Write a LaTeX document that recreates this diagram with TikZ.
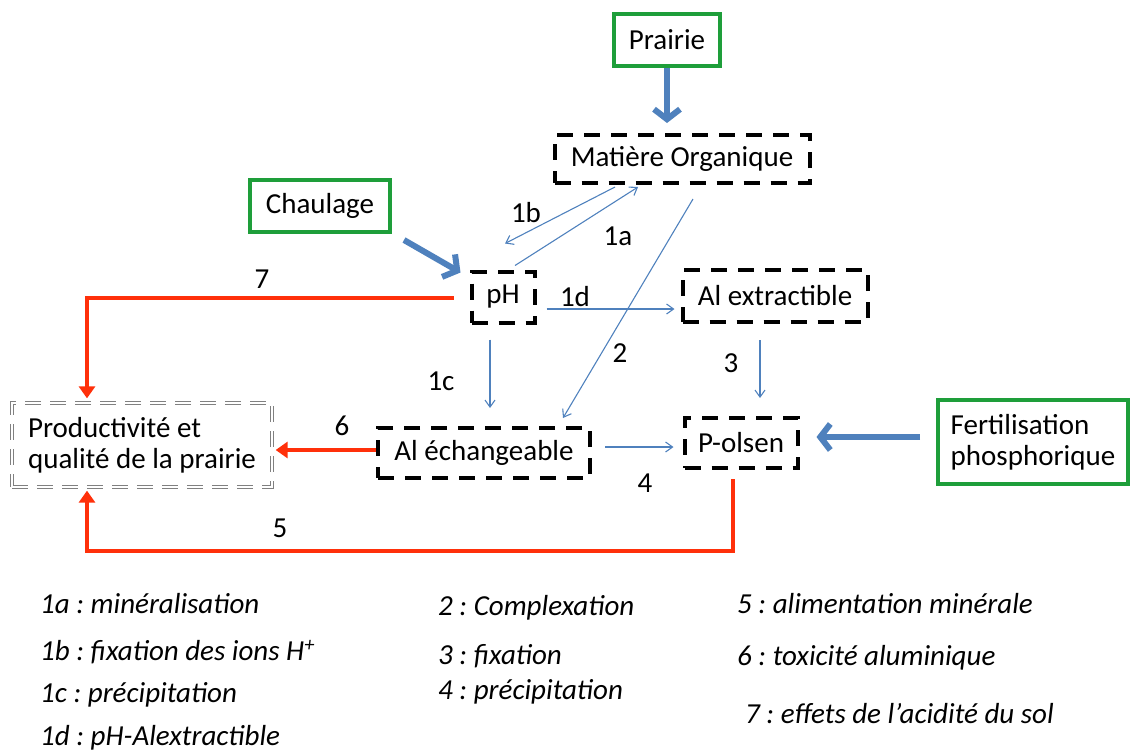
\documentclass[tikz,border=0pt]{standalone}
\usepackage{fontspec}
\setmainfont{Carlito}
\usetikzlibrary{arrows.meta,calc}
\definecolor{gboxc}{RGB}{30,158,58}
\definecolor{bluec}{RGB}{79,129,189}
\definecolor{redc}{RGB}{255,48,10}
\tikzset{
  nodefont/.style={font=\fontsize{29}{31}\selectfont},
  greenbox/.style={draw=gboxc, line width=4pt, inner sep=0pt, nodefont, align=left},
  dashbox/.style={draw=black, line width=4pt, dash pattern=on 16pt off 11pt, inner sep=0pt, nodefont},
  prodbox/.style={draw=gray, double=white, double distance=1.6pt, line width=1.3pt, dash pattern=on 16pt off 9pt, inner sep=0pt, nodefont, align=left},
  thinarr/.style={draw=bluec, line width=1.1pt, -{Straight Barb[length=7pt,width=10pt]}},
  thickarr/.style={draw=bluec, line width=6pt, -{Straight Barb[length=10pt,width=26pt]}},
  redarr/.style={draw=redc, line width=4pt, -{Triangle[length=12pt,width=16pt]}},
  lab/.style={nodefont, inner sep=0pt},
  leg/.style={font=\fontsize{29}{31}\selectfont\itshape\frenchspacing, anchor=west, inner sep=0pt}
}
\begin{document}
\begin{tikzpicture}[x=1pt,y=-1pt]
\useasboundingbox (0,0) rectangle (1130,753);
% nodes
\node[greenbox, minimum width=106pt, minimum height=52pt] (prairie) at (667,40) {Prairie};
\node[dashbox, minimum width=255pt, minimum height=48pt] (mo) at (682,159) {Matière Organique};
\node[greenbox, minimum width=140pt, minimum height=52pt] (chaul) at (320,206) {Chaulage};
\node[dashbox, minimum width=63pt, minimum height=51pt] (ph) at (503,297) {pH};
\node[dashbox, minimum width=185pt, minimum height=52pt] (alx) at (775,296) {Al extractible};
\node[prodbox, minimum width=260pt, minimum height=84pt] (prod) at (142,445) {Productivité et\\qualité de la prairie};
\node[dashbox, minimum width=212pt, minimum height=50pt] (ale) at (484,453) {Al échangeable};
\node[dashbox, minimum width=113pt, minimum height=50pt] (po) at (741,443) {P-olsen};
\node[greenbox, minimum width=190pt, minimum height=84pt] (fert) at (1033,442) {Fertilisation\\phosphorique};
% thick blue arrows
\draw[thickarr] (prairie.south) -- ($(mo.north)+(-15,-10)$);
\draw[thickarr] ($(chaul.south east)+(12,6)$) -- ($(ph.north west)+(-9,3)$);
\draw[thickarr] ($(fert.west)+(-16,-5)$) -- ($(po.east)+(17,-6)$);
% thin blue arrows
\draw[thinarr] ($(mo.south)+(-67,2)$) -- ($(ph.north)+(2,-26)$);
\draw[thinarr] ($(ph.north)+(12,-4)$) -- ($(mo.south)+(-44,2)$);
\draw[thinarr] ($(mo.south)+(11,14)$) -- ($(ale.north)+(79,-8)$);
\draw[thinarr] ($(ph.east)+(10,12)$) -- ($(alx.west)+(-6,13)$);
\draw[thinarr] ($(ph.south)+(-13,15)$) -- ($(ale.north)+(6,-18)$);
\draw[thinarr] ($(alx.south)+(-15,16)$) -- ($(po.north)+(19,-18)$);
\draw[thinarr] ($(ale.east)+(13,-6)$) -- ($(po.west)+(-9,4)$);
% red arrows
\draw[redarr] ($(ph.west)+(-16,1)$) -| ($(prod.north)+(-55,-4)$);
\draw[redarr] ($(ale.west)+(0,-3)$) -- ($(prod.east)+(3,5)$);
\draw[redarr] ($(po.south)+(-8,9)$) |- ($(prod.south)+(-55,63)$) -- ($(prod.south)+(-55,3)$);
% labels
\node[lab] (l1b) at (526,213) {1b};
\node[lab] (l1a) at (618,236) {1a};
\node[lab] (l7) at (262,279) {7};
\node[lab] (l1d) at (575,297) {1d};
\node[lab] (l2) at (620,353) {2};
\node[lab] (l1c) at (441,381) {1c};
\node[lab] (l3) at (731,363) {3};
\node[lab] (l6) at (342,426) {6};
\node[lab] (l4) at (645,483) {4};
\node[lab] (l5) at (280,528) {5};
% legend
\node[leg] (g1a) at (40,604) {1a : minéralisation};
\node[leg] (g1b) at (40,652) {1b : fixation des ions H\textsuperscript{+}};
\node[leg] (g1c) at (40,695) {1c : précipitation};
\node[leg] (g1d) at (40,738) {1d : pH-Alextractible};
\node[leg] (g2) at (438,608) {2 : Complexation};
\node[leg] (g3) at (438,656) {3 : fixation};
\node[leg] (g4) at (438,692) {4 : précipitation};
\node[leg] (g5) at (737,604) {5 : alimentation minérale};
\node[leg] (g6) at (737,658) {6 : toxicité aluminique};
\node[leg] (g7) at (745,714) {7 : effets de l’acidité du sol};
\end{tikzpicture}
\end{document}
